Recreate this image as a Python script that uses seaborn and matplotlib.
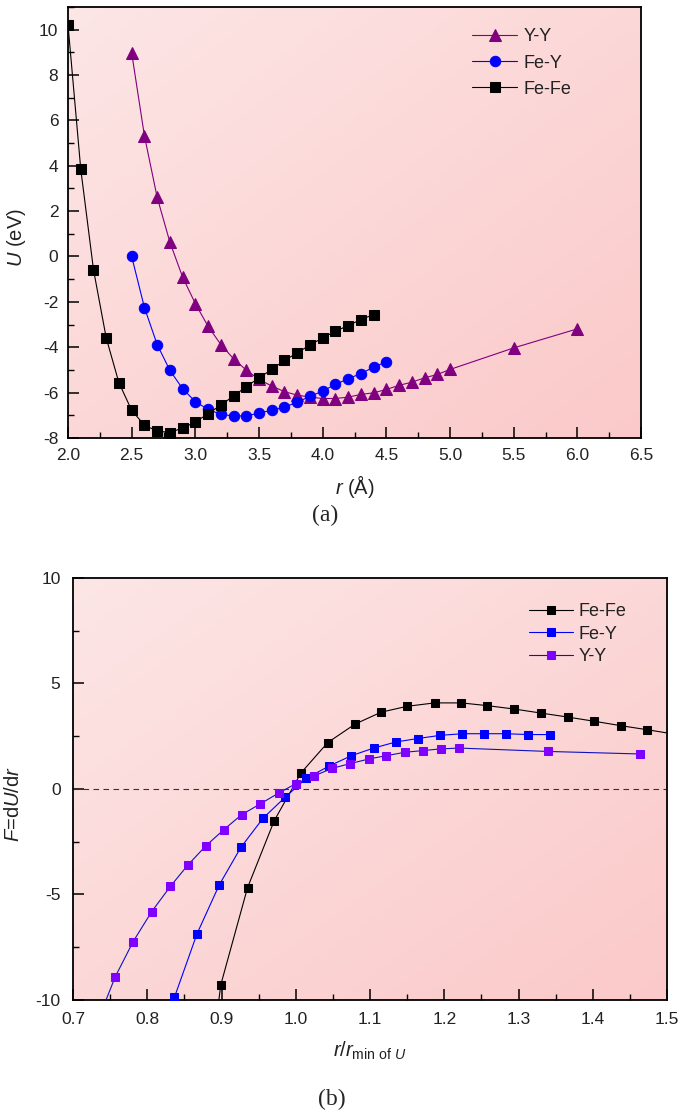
import numpy as np
import matplotlib
matplotlib.use("Agg")
import matplotlib.pyplot as plt
import seaborn as sns
from matplotlib.colors import LinearSegmentedColormap
from matplotlib.ticker import MultipleLocator

# ---------------- Panel (a): U(r) ----------------
r_fefe = [2.0, 2.1, 2.2, 2.3, 2.4, 2.5, 2.6, 2.7, 2.8, 2.9, 3.0, 3.1, 3.2,
          3.3, 3.4, 3.5, 3.6, 3.7, 3.8, 3.9, 4.0, 4.1, 4.2, 4.3, 4.4]
u_fefe = [10.2, 3.85, -0.58, -3.59, -5.57, -6.78, -7.44, -7.69, -7.76, -7.56,
          -7.30, -6.93, -6.55, -6.15, -5.74, -5.35, -4.98, -4.58, -4.25, -3.90,
          -3.59, -3.29, -3.05, -2.78, -2.56]

r_fey = [2.5, 2.6, 2.7, 2.8, 2.9, 3.0, 3.1, 3.2, 3.3, 3.4, 3.5, 3.6, 3.7,
         3.8, 3.9, 4.0, 4.1, 4.2, 4.3, 4.4, 4.5]
u_fey = [0.0, -2.25, -3.88, -5.02, -5.83, -6.40, -6.74, -6.96, -7.03, -7.03,
         -6.90, -6.78, -6.64, -6.42, -6.17, -5.93, -5.64, -5.39, -5.16, -4.88,
         -4.64]

r_yy = [2.5, 2.6, 2.7, 2.8, 2.9, 3.0, 3.1, 3.2, 3.3, 3.4, 3.5, 3.6, 3.7, 3.8,
        3.9, 4.0, 4.1, 4.2, 4.3, 4.4, 4.5, 4.6, 4.7, 4.8, 4.9, 5.0, 5.5, 6.0]
u_yy = [8.97, 5.32, 2.61, 0.63, -0.91, -2.08, -3.08, -3.88, -4.51, -5.01,
        -5.42, -5.71, -5.96, -6.11, -6.20, -6.26, -6.26, -6.20, -6.08, -6.01,
        -5.86, -5.68, -5.54, -5.35, -5.20, -4.98, -4.03, -3.19]

# ---------------- Panel (b): F = dU/dr ----------------
x_fefe_b = [0.864, 0.899, 0.935, 0.971, 1.007, 1.043, 1.080, 1.115, 1.150,
            1.187, 1.223, 1.258, 1.294, 1.330, 1.366, 1.402, 1.438, 1.473, 1.51]
f_fefe_b = [-19.0, -9.28, -4.68, -1.50, 0.76, 2.20, 3.08, 3.64, 3.92, 4.08,
            4.08, 3.95, 3.79, 3.60, 3.41, 3.21, 3.00, 2.81, 2.60]

x_fey_b = [0.8365, 0.867, 0.897, 0.926, 0.956, 0.986, 1.014, 1.045, 1.075,
           1.105, 1.135, 1.164, 1.194, 1.224, 1.253, 1.283, 1.313, 1.343]
f_fey_b = [-9.88, -6.86, -4.54, -2.77, -1.38, -0.38, 0.50, 1.09, 1.58, 1.94,
           2.23, 2.39, 2.54, 2.62, 2.62, 2.62, 2.58, 2.58]

x_yy_b = [0.732, 0.757, 0.781, 0.806, 0.831, 0.855, 0.879, 0.903, 0.927,
          0.952, 0.977, 1.000, 1.024, 1.049, 1.073, 1.098, 1.122, 1.147,
          1.171, 1.195, 1.220, 1.339, 1.463]
f_yy_b = [-11.1, -8.89, -7.23, -5.81, -4.62, -3.59, -2.69, -1.93, -1.22,
          -0.71, -0.19, 0.25, 0.61, 0.98, 1.20, 1.42, 1.58, 1.74, 1.82, 1.90,
          1.94, 1.78, 1.66]

sns.set_style("white")
plt.rcParams["font.family"] = ["Liberation Sans", "DejaVu Sans"]
plt.rcParams["mathtext.fontset"] = "custom"
plt.rcParams["mathtext.rm"] = "Liberation Sans"
plt.rcParams["mathtext.it"] = "Liberation Sans:italic"
plt.rcParams["mathtext.bf"] = "Liberation Sans:bold"
plt.rcParams["axes.unicode_minus"] = False

TXT = "#222222"
fig = plt.figure(figsize=(6.85, 11.17), dpi=100)
fig.patch.set_facecolor("white")
ax1 = fig.add_axes([0.0993, 0.6079, 0.8365, 0.3859])
ax2 = fig.add_axes([0.1066, 0.10475, 0.8672, 0.3778])

cmap = LinearSegmentedColormap.from_list("pinkbg", ["#fde6e6", "#fbc9c9"])
gx, gy = np.meshgrid(np.linspace(0, 1, 200), np.linspace(0, 1, 200))
grad = (gx + gy) / 2.0


def background(ax):
    ax.imshow(grad, extent=[0, 1, 0, 1], transform=ax.transAxes,
              aspect="auto", cmap=cmap, origin="upper", zorder=0,
              interpolation="bilinear")


def style_axes(ax):
    for s in ax.spines.values():
        s.set_color("black")
        s.set_linewidth(1.3)
        s.set_visible(True)
    ax.tick_params(which="both", direction="in", top=False, right=False,
                   bottom=True, left=True, color="black", labelsize=12.5,
                   labelcolor=TXT)
    ax.tick_params(which="major", length=8, width=1.1, pad=7)
    ax.tick_params(which="minor", length=4, width=1.0)


# ---------- Panel (a) ----------
background(ax1)
lw = 0.8
sns.lineplot(x=r_yy, y=u_yy, ax=ax1, color="#800080", marker="^",
             markersize=8, markeredgecolor="#800080", linewidth=lw,
             label="Y-Y", errorbar=None, sort=False, legend=False, zorder=3)
sns.lineplot(x=r_fey, y=u_fey, ax=ax1, color="#0000ff", marker="o",
             markersize=7.5, markeredgecolor="#0000ff", linewidth=lw,
             label="Fe-Y", errorbar=None, sort=False, legend=False, zorder=3)
sns.lineplot(x=r_fefe, y=u_fefe, ax=ax1, color="black", marker="s",
             markersize=6.5, markeredgecolor="black", linewidth=lw,
             label="Fe-Fe", errorbar=None, sort=False, legend=False, zorder=3)
ax1.set_xlim(2.0, 6.5)
ax1.set_ylim(-8, 11)
ax1.xaxis.set_major_locator(MultipleLocator(0.5))
ax1.xaxis.set_minor_locator(MultipleLocator(0.25))
ax1.yaxis.set_minor_locator(MultipleLocator(1))
ax1.set_yticks([-8, -6, -4, -2, 0, 2, 4, 6, 8, 10])
ax1.xaxis.set_major_formatter(matplotlib.ticker.FormatStrFormatter("%.1f"))
style_axes(ax1)
ax1.set_ylabel("$U$ (eV)", fontsize=14.5, color=TXT)
ax1.set_xlabel("$r$ (Å)", fontsize=14.5, color=TXT)
ax1.yaxis.set_label_coords(-0.070, 0.464)
ax1.xaxis.set_label_coords(0.5, -0.082)
h, l = ax1.get_legend_handles_labels()
ax1.legend(h, l, loc="upper left", bbox_to_anchor=(0.705, 0.95),
           frameon=False, fontsize=13, handlelength=2.5,
           handletextpad=0.35, labelspacing=0.5, borderpad=0,
           borderaxespad=0, labelcolor=TXT)
fig.text(0.474, 1 - 515 / 1117, "(a)", family=["Liberation Serif"],
         fontsize=17, ha="center", va="center")

# ---------- Panel (b) ----------
background(ax2)
ax2.axhline(0, color="#333333", linestyle=(0, (5, 4)), linewidth=0.8,
            zorder=2)
sns.lineplot(x=x_fefe_b, y=f_fefe_b, ax=ax2, color="black", marker="s",
             markersize=5.5, markeredgecolor="black", linewidth=lw,
             label="Fe-Fe", errorbar=None, sort=False, legend=False, zorder=3)
sns.lineplot(x=x_fey_b, y=f_fey_b, ax=ax2, color="#0000ff", marker="s",
             markersize=5.5, markeredgecolor="#0000ff", linewidth=lw,
             label="Fe-Y", errorbar=None, sort=False, legend=False, zorder=3)
sns.lineplot(x=x_yy_b, y=f_yy_b, ax=ax2, color="#1010c0", marker="s",
             markersize=5.5, markerfacecolor="#8000ff",
             markeredgecolor="#8000ff", linewidth=lw,
             label="Y-Y", errorbar=None, sort=False, legend=False, zorder=3)
ax2.set_xlim(0.7, 1.5)
ax2.set_ylim(-10, 10)
ax2.xaxis.set_major_locator(MultipleLocator(0.1))
ax2.xaxis.set_minor_locator(MultipleLocator(0.05))
ax2.yaxis.set_major_locator(MultipleLocator(5))
ax2.yaxis.set_minor_locator(MultipleLocator(2.5))
ax2.xaxis.set_major_formatter(matplotlib.ticker.FormatStrFormatter("%.1f"))
ax2.yaxis.set_major_formatter(matplotlib.ticker.FormatStrFormatter("%d"))
style_axes(ax2)
ax2.tick_params(which="major", pad=9)
ax2.set_ylabel("$F$=d$U$/d$r$", fontsize=14.5, color=TXT)
ax2.set_xlabel(r"$r/r_{\mathrm{min\ of}\ U}$", fontsize=14.5, color=TXT)
ax2.yaxis.set_label_coords(-0.084, 0.4645)
ax2.xaxis.set_label_coords(0.5, -0.095)
h, l = ax2.get_legend_handles_labels()
ax2.legend(h, l, loc="upper left", bbox_to_anchor=(0.768, 0.94),
           frameon=False, fontsize=13, handlelength=2.4,
           handletextpad=0.35, labelspacing=0.3, borderpad=0,
           borderaxespad=0, labelcolor=TXT)
fig.text(0.484, 1 - 1099 / 1117, "(b)", family=["Liberation Serif"],
         fontsize=17, ha="center", va="center")

fig.savefig("out.png", dpi=100, facecolor="white")
